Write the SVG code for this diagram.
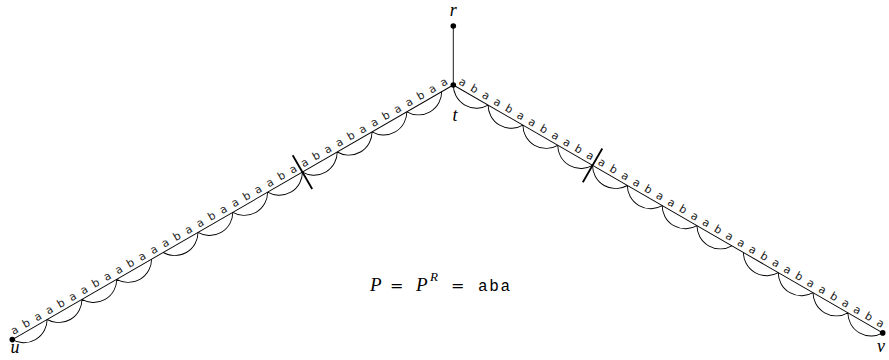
<svg xmlns="http://www.w3.org/2000/svg" width="889" height="360" viewBox="0 0 889 360">
<style>
.ln{stroke:#000;stroke-width:0.9;fill:none}
.arc{stroke:#000;stroke-width:0.9;fill:none}
.cut{stroke:#000;stroke-width:1.8;fill:none}
.dot{fill:#000}
.lab{font-family:"Liberation Serif",serif;font-style:italic;font-size:18px;text-anchor:middle;fill:#000}
.str{font-family:"DejaVu Sans",sans-serif;font-size:11px;text-anchor:middle;fill:#222}
.math{font-family:"Liberation Serif",serif;font-size:19px;fill:#000}
.eq{font-family:"DejaVu Serif",serif;font-size:16px}
.tt{font-family:"Liberation Mono",monospace;font-size:16px;letter-spacing:1.6px;fill:#000}
</style>
<rect width="889" height="360" fill="#fff"/>
<g id="connectors">
  <line class="ln" x1="453.3" y1="26" x2="453.3" y2="85"/>
  <g id="left-branch" transform="translate(12.3,339.6) rotate(-30)">
    <line class="ln" x1="0" y1="0" x2="509.2" y2="0"/>
    <path class="arc" d="M0 0A23.21 23.21 0 0 0 40.2 0M40.2 0A23.21 23.21 0 0 0 80.4 0M80.4 0A23.21 23.21 0 0 0 120.6 0M120.6 0A23.21 23.21 0 0 0 160.8 0M174.2 0A23.21 23.21 0 0 0 214.4 0M214.4 0A23.21 23.21 0 0 0 254.6 0M254.6 0A23.21 23.21 0 0 0 294.8 0M294.8 0A23.21 23.21 0 0 0 335 0M335 0A23.21 23.21 0 0 0 375.2 0M375.2 0A23.21 23.21 0 0 0 415.4 0M415.4 0A23.21 23.21 0 0 0 455.6 0M455.6 0A23.21 23.21 0 0 0 495.8 0"/>
    <line class="cut" x1="335" y1="-19.5" x2="335" y2="19.5"/>
    <text class="str" y="-3.5" x="6.7 20.1 33.5 46.9 60.3 73.7 87.1 100.5 113.9 127.3 140.7 154.1 167.5 180.9 194.3 207.7 221.1 234.5 247.9 261.3 274.7 288.1 301.5 314.9 328.3 341.7 355.1 368.5 381.9 395.3 408.7 422.1 435.5 448.9 462.3 475.7 489.1 502.5">abaabaabaabaaabaabaabaabaabaabaabaabaa</text>
  </g>
  <g id="right-branch" transform="translate(453.3,85) rotate(30)">
    <line class="ln" x1="0" y1="0" x2="495.8" y2="0"/>
    <path class="arc" d="M0 0A23.21 23.21 0 0 0 40.2 0M40.2 0A23.21 23.21 0 0 0 80.4 0M80.4 0A23.21 23.21 0 0 0 120.6 0M120.6 0A23.21 23.21 0 0 0 160.8 0M160.8 0A23.21 23.21 0 0 0 201 0M201 0A23.21 23.21 0 0 0 241.2 0M241.2 0A23.21 23.21 0 0 0 281.4 0M281.4 0A23.21 23.21 0 0 0 321.6 0M335 0A23.21 23.21 0 0 0 375.2 0M375.2 0A23.21 23.21 0 0 0 415.4 0M415.4 0A23.21 23.21 0 0 0 455.6 0M455.6 0A23.21 23.21 0 0 0 495.8 0"/>
    <line class="cut" x1="160.8" y1="-19.5" x2="160.8" y2="19.5"/>
    <text class="str" y="-3.5" x="6.7 20.1 33.5 46.9 60.3 73.7 87.1 100.5 113.9 127.3 140.7 154.1 167.5 180.9 194.3 207.7 221.1 234.5 247.9 261.3 274.7 288.1 301.5 314.9 328.3 341.7 355.1 368.5 381.9 395.3 408.7 422.1 435.5 448.9 462.3 475.7 489.1">abaabaabaabaabaabaabaabaaabaabaabaaba</text>
  </g>
</g>
<g id="node-r"><circle class="dot" cx="453.3" cy="26" r="2.8"/><text class="lab" x="453.3" y="16">r</text></g>
<g id="node-t"><circle class="dot" cx="453.3" cy="85" r="2.8"/><text class="lab" x="455" y="121">t</text></g>
<g id="node-u"><circle class="dot" cx="12.3" cy="339.6" r="2.8"/><text class="lab" x="15" y="353">u</text></g>
<g id="node-v"><circle class="dot" cx="882.7" cy="332.9" r="2.8"/><text class="lab" x="881" y="352">v</text></g>
<g id="formula">
  <text class="math" y="291"><tspan x="370" font-style="italic">P</tspan><tspan x="390" class="eq">=</tspan><tspan x="416" font-style="italic">P</tspan><tspan x="430" y="281" font-size="13" font-style="italic">R</tspan><tspan x="451" y="291" class="eq">=</tspan></text>
  <text class="tt" x="478" y="291">aba</text>
</g>
</svg>
